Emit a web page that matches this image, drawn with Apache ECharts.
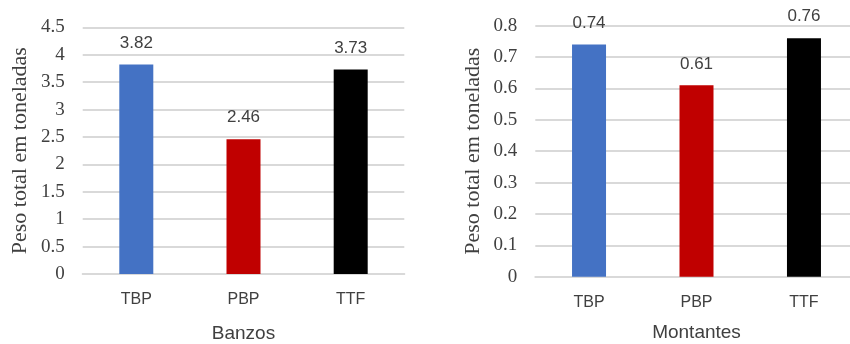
<!DOCTYPE html>
<html>
<head>
<meta charset="utf-8">
<script src="https://cdn.jsdelivr.net/npm/echarts@6/dist/echarts.min.js"></script>
<style>html,body{margin:0;padding:0;background:#fff;}#c{width:850px;height:344px;}</style>
</head>
<body>
<div id="c"></div>
<script>
const categories = ['TBP', 'PBP', 'TTF'];
const banzosValues = [3.82, 2.46, 3.73];
const montantesValues = [0.74, 0.61, 0.76];
const barColors = ['#4472C4', '#C00000', '#000000'];
const yAxisTitle = 'Peso total em toneladas';
const leftXTitle = 'Banzos';
const rightXTitle = 'Montantes';

const txt = '#404040';
const grid = '#d9d9d9';

function xAx(idx, name, gap) {
  return {
    type: 'category', gridIndex: idx, data: categories,
    name: name, nameLocation: 'middle', nameGap: gap,
    nameTextStyle: { fontFamily: 'Liberation Sans', fontSize: 19, color: txt },
    axisLine: { lineStyle: { color: grid, width: 2 } },
    axisTick: { show: false },
    axisLabel: { fontFamily: 'Liberation Sans', fontSize: 16, color: txt, margin: 18 }
  };
}
function yAx(idx, max, interval) {
  return {
    type: 'value', gridIndex: idx, min: 0, max: max, interval: interval,
    name: yAxisTitle, nameLocation: 'middle', nameGap: 51,
    nameTextStyle: { fontFamily: 'Liberation Serif', fontSize: 22, color: txt },
    axisLine: { show: false }, axisTick: { show: false },
    axisLabel: { fontFamily: 'Liberation Serif', fontSize: 19, color: txt, margin: 18 },
    splitLine: { lineStyle: { color: grid, width: 2 } }
  };
}
function ser(idx, vals) {
  return {
    type: 'bar', xAxisIndex: idx, yAxisIndex: idx, barWidth: 34,
    data: vals.map((v, i) => ({ value: v, itemStyle: { color: barColors[i] } })),
    label: { show: true, position: 'top', distance: 13, fontFamily: 'Liberation Sans', fontSize: 17, color: txt },
    animation: false
  };
}

const chart = echarts.init(document.getElementById('c'), null, { renderer: 'canvas' });
chart.setOption({
  animation: false,
  grid: [
    { left: 82.7, right: 445.7, top: 27.3, bottom: 70, containLabel: false, outerBoundsMode: 'none' },
    { left: 535.3, right: -7.7, top: 25.7, bottom: 67.3, containLabel: false, outerBoundsMode: 'none' }
  ],
  xAxis: [xAx(0, leftXTitle, 50), xAx(1, rightXTitle, 47)],
  yAxis: [yAx(0, 4.5, 0.5), yAx(1, 0.8, 0.1)],
  series: [ser(0, banzosValues), ser(1, montantesValues)]
});
</script>
</body>
</html>
